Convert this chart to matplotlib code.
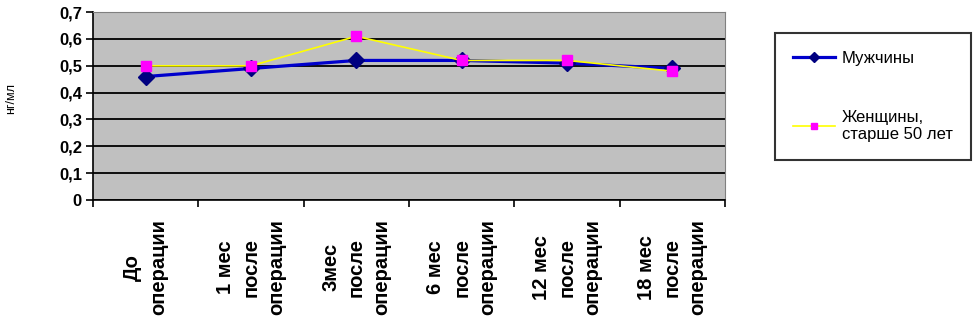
import numpy as np
import matplotlib.pyplot as plt

# данные
categories = ["До\nоперации", "1 мес\nпосле\nоперации", "3мес\nпосле\nоперации",
              "6 мес\nпосле\nоперации", "12 мес\nпосле\nоперации", "18 мес\nпосле\nоперации"]
men = [0.46, 0.49, 0.52, 0.52, 0.51, 0.49]
women = [0.50, 0.50, 0.61, 0.52, 0.52, 0.48]
yticks = [0, 0.1, 0.2, 0.3, 0.4, 0.5, 0.6, 0.7]
ytick_labels = ["0", "0,1", "0,2", "0,3", "0,4", "0,5", "0,6", "0,7"]

plt.rcParams['font.family'] = ['Liberation Sans', 'DejaVu Sans']

fig = plt.figure(figsize=(9.75, 3.19), dpi=100)
ax = fig.add_axes([0.0954, 0.373, 0.6482, 0.589])
ax.set_facecolor('#c0c0c0')

x = np.arange(len(categories)) + 0.5

ax.plot(x, men, color='#0000cc', lw=2.3, marker='D', markersize=8,
        markerfacecolor='#000080', markeredgecolor='#000080', label='Мужчины', zorder=3)
ax.plot(x, women, color='#ffff00', lw=1.2, marker='s', markersize=7,
        markerfacecolor='#ff00ff', markeredgecolor='#ff00ff',
        label='Женщины,\nстарше 50 лет', zorder=4)

ax.set_xlim(0, 6)
ax.set_ylim(0, 0.7)
ax.set_yticks(yticks)
ax.set_yticklabels(ytick_labels, fontsize=12, fontweight='bold')
ax.yaxis.grid(True, color='black', lw=1.3)
ax.set_axisbelow(True)

ax.set_xticks(x)
ax.set_xticklabels(categories, rotation=90, fontsize=14.5, fontweight='bold',
                   multialignment='center', linespacing=1.45)
ax.set_xticks(np.arange(0, 7), minor=True)
ax.tick_params(axis='x', which='major', length=0, pad=14)
ax.tick_params(axis='x', which='minor', length=5, width=1.2, direction='out')
ax.tick_params(axis='y', length=5, width=1.2, direction='out', pad=3)

for s in ['top', 'right']:
    ax.spines[s].set_color('#808080')
for s in ['left', 'bottom']:
    ax.spines[s].set_color('black')
    ax.spines[s].set_linewidth(1.2)

fig.text(0.011, 0.69, 'нг/мл', rotation=90, fontsize=9, ha='center', va='center')

leg = fig.legend(loc='upper left', bbox_to_anchor=(0.795, 0.897), fontsize=12,
                 frameon=True, fancybox=False, edgecolor='black', labelspacing=2.6,
                 handlelength=2.5, borderpad=1.1, handletextpad=0.4,
                 borderaxespad=0, markerscale=0.7)
leg.get_frame().set_linewidth(1.5)

plt.savefig('out.png', dpi=100)
